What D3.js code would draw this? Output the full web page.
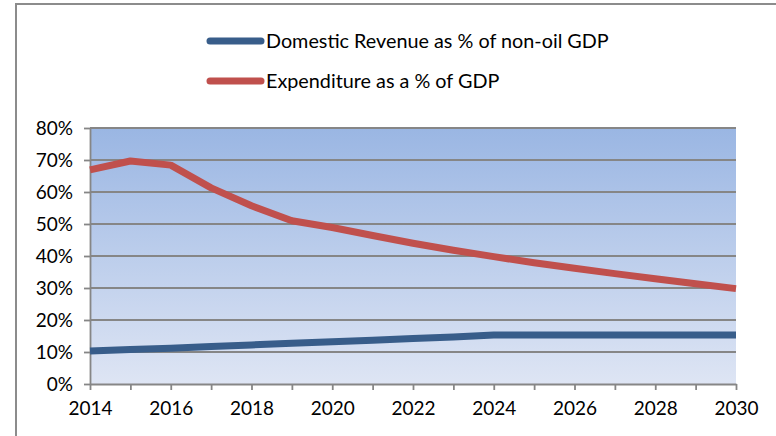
<!DOCTYPE html>
<html><head><meta charset="utf-8">
<script src="https://cdn.jsdelivr.net/npm/d3@7"></script>
<style>body{margin:0;background:#fff}svg{display:block}text{font-family:Lato,"Open Sans",sans-serif}</style>
</head><body>
<svg id="c" width="776" height="436"></svg>
<script>
const years = [2014,2015,2016,2017,2018,2019,2020,2021,2022,2023,2024,2025,2026,2027,2028,2029,2030];
const revenue = [10.3,10.8,11.2,11.7,12.2,12.7,13.2,13.7,14.2,14.7,15.3,15.3,15.3,15.3,15.3,15.3,15.3];
const expenditure = [66.9,69.7,68.4,61.3,55.7,51.0,48.9,46.4,44.0,41.8,39.8,37.9,36.2,34.5,32.9,31.3,29.8];
const seriesNames = ["Domestic Revenue as % of non-oil GDP","Expenditure as a % of GDP"];
const seriesColors = ["#385D8A","#C0504D"];
const yTicks = [0,10,20,30,40,50,60,70,80];
const xTicks = [2014,2016,2018,2020,2022,2024,2026,2028,2030];

const svg = d3.select("#c");
const x = d3.scaleLinear().domain([2014,2030]).range([90,736]);
const y = d3.scaleLinear().domain([0,80]).range([384,128]);
const FONT = "Lato,'Open Sans',sans-serif";

svg.append("path").attr("d","M16,436 L16,4 L776,4").attr("fill","none").attr("stroke","#8c8c8c").attr("stroke-width",2);

const defs = svg.append("defs");
const g = defs.append("linearGradient").attr("id","bg").attr("x1",0).attr("y1",0).attr("x2",0).attr("y2",1);
g.append("stop").attr("offset","0%").attr("stop-color","#9AB6E3");
g.append("stop").attr("offset","100%").attr("stop-color","#DEE5F4");

svg.append("rect").attr("x",x(2014)).attr("y",y(80)).attr("width",x(2030)-x(2014)).attr("height",y(0)-y(80)).attr("fill","url(#bg)");

svg.append("g").selectAll("line").data(yTicks.filter(d=>d>0)).join("line")
  .attr("x1",x(2014)).attr("x2",x(2030)).attr("y1",d=>y(d)).attr("y2",d=>y(d))
  .attr("stroke","#868686").attr("stroke-width",1.8);

const yAxis = d3.axisLeft(y).tickValues(yTicks).tickFormat(d=>d+"%").tickSize(6).tickSizeOuter(0);
const ya = svg.append("g").attr("transform",`translate(${x(2014)},0)`).call(yAxis);
ya.select(".domain").attr("stroke","#868686").attr("stroke-width",1.8);
ya.selectAll(".tick line").attr("stroke","#868686").attr("stroke-width",1.8);
ya.selectAll("text").attr("font-size",19).attr("fill","#000").attr("x",-17).attr("dy","0.35em").style("font-family",FONT);

const xAxis = d3.axisBottom(x).tickValues(years).tickFormat(d=>xTicks.includes(d)?String(d):"").tickSize(6).tickSizeOuter(0);
const xa = svg.append("g").attr("transform",`translate(0,${y(0)})`).call(xAxis);
xa.select(".domain").attr("stroke","#868686").attr("stroke-width",1.8);
xa.selectAll(".tick line").attr("stroke","#868686").attr("stroke-width",1.8);
xa.selectAll("text").attr("font-size",19).attr("fill","#000").attr("y",18).attr("dy","0.71em").style("font-family",FONT);

const line = d3.line().x((d,i)=>x(years[i])).y(d=>y(d));
[revenue,expenditure].forEach((s,i)=>{
  svg.append("path").datum(s).attr("d",line).attr("fill","none")
    .attr("stroke",seriesColors[i]).attr("stroke-width",7).attr("stroke-linejoin","round");
});

const legY = [41,81];
seriesNames.forEach((n,i)=>{
  svg.append("line").attr("x1",210).attr("x2",261).attr("y1",legY[i]).attr("y2",legY[i])
    .attr("stroke",seriesColors[i]).attr("stroke-width",7).attr("stroke-linecap","round");
  svg.append("text").attr("x",266).attr("y",legY[i]).attr("dy","0.35em").attr("font-size",19.8).attr("fill","#000").style("font-family",FONT).text(n);
});
</script>
</body></html>
